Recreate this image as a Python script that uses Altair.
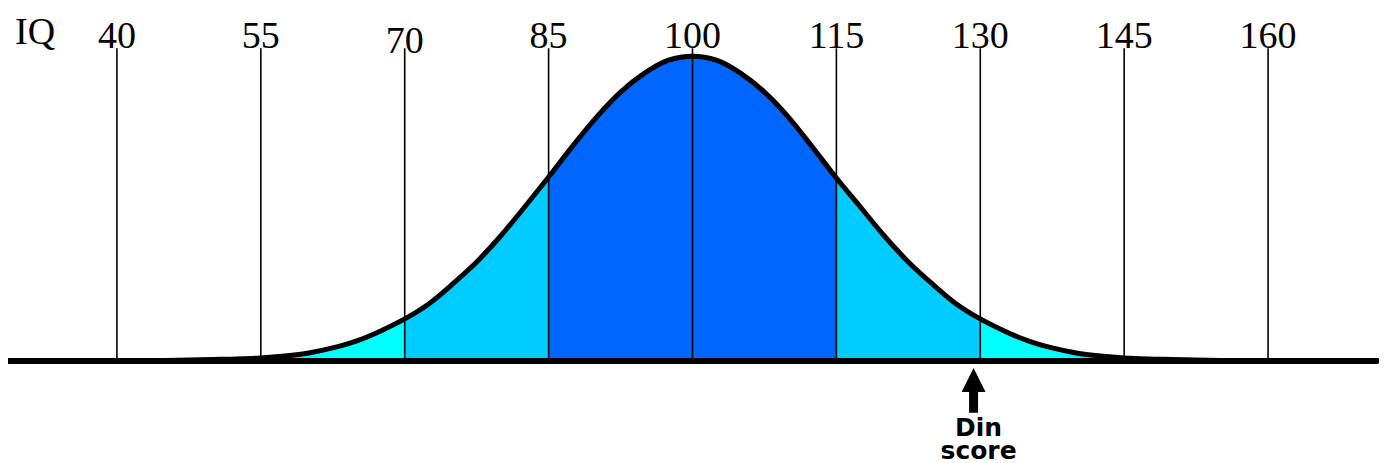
import altair as alt
import pandas as pd

# ---- data ----
IQ_TICKS = [40, 55, 70, 85, 100, 115, 130, 145, 160]
IQ_LABELS = ["40", "55", "70", "85", "100", "115", "130", "145", "160"]

CURVE_IQ = [42.5, 45, 47.5, 50, 52.5, 55, 57.5, 60, 62.5, 65, 67.5, 70, 72.5, 75,
            77.5, 80, 82.5, 85, 87.5, 90, 92.5, 95, 97.5, 100, 102.5, 105, 107.5,
            110, 112.5, 115, 117.5, 120, 122.5, 125, 127.5, 130, 132.5, 135, 137.5,
            140, 142.5, 145, 147.5, 150, 152.5, 155, 157.5]
CURVE_H = [0, 0.5, 1, 1.5, 2, 3, 5, 8, 13, 20, 30, 42, 57, 77,
           99, 125, 154, 184, 215, 244, 269, 288, 301, 305, 301, 288, 269,
           244, 214, 183, 154, 125, 99, 77, 57, 42, 30, 20, 13,
           8, 5, 3, 2, 1.5, 1, 0.5, 0]

BAND_LO = [55, 70, 85, 115, 130]
BAND_HI = [70, 85, 115, 130, 145]
BAND_KIND = ["outer", "mid", "center", "mid", "outer"]
KIND_ORDER = ["outer", "mid", "center"]
KIND_COLORS = ["#00FFFF", "#00CCFF", "#0066FF"]

DIN_SCORE = 129.3

# ---- tables ----
curve = pd.DataFrame({"iq": CURVE_IQ, "h": CURVE_H})
rows = []
for i, (lo, hi, kind) in enumerate(zip(BAND_LO, BAND_HI, BAND_KIND)):
    for q, h in zip(CURVE_IQ, CURVE_H):
        if lo <= q <= hi:
            rows.append({"iq": q, "h": h, "kind": kind, "seg": i})
bands = pd.DataFrame(rows)
ticks = pd.DataFrame({"iq": IQ_TICKS, "label": IQ_LABELS})
din = pd.DataFrame({"iq": [DIN_SCORE]})
base = pd.DataFrame({"v": [0]})

W, H = 1372, 455
xs = alt.Scale(domain=[28.646, 171.563], nice=False, zero=False)
ys = alt.Scale(domain=[-102, 353], nice=False, zero=False)
X = lambda f="iq:Q": alt.X(f, scale=xs, axis=None)

areas = alt.Chart(bands).mark_area(interpolate="monotone", strokeWidth=0, opacity=1).encode(
    x=X(),
    y=alt.Y("h:Q", scale=ys, axis=None, stack=None),
    color=alt.Color("kind:N", scale=alt.Scale(domain=KIND_ORDER, range=KIND_COLORS), legend=None),
    detail="seg:N",
)

vlines = alt.Chart(ticks).mark_rule(color="black", strokeWidth=1.6).encode(
    x=X(), y=alt.value(40), y2=alt.value(353)
)

outline = alt.Chart(curve).mark_line(
    interpolate="monotone", color="black", strokeWidth=5, strokeCap="round"
).encode(x=X(), y=alt.Y("h:Q", scale=ys, axis=None))

baseline = alt.Chart(base).mark_rule(color="black", strokeWidth=6, strokeCap="round").encode(
    y=alt.Y("v:Q", scale=ys, axis=None), x=alt.value(1), x2=alt.value(1370)
)

label_style = dict(font="Liberation Serif", fontSize=38, align="center",
                   baseline="alphabetic", color="black")
labels = alt.Chart(ticks).transform_filter("datum.iq != 70").mark_text(**label_style).encode(
    x=X(), y=alt.value(40), text="label:N"
)
label70 = alt.Chart(ticks).transform_filter("datum.iq == 70").mark_text(**label_style).encode(
    x=X(), y=alt.value(45), text="label:N"
)
iq_title = alt.Chart(base).mark_text(
    font="Liberation Serif", fontSize=38, align="left", baseline="alphabetic", color="black", text="IQ"
).encode(x=alt.value(7), y=alt.value(36))

ARROW = "M0,-1 L0.533,0.067 L0.2,0.067 L0.2,1 L-0.2,1 L-0.2,0.067 L-0.533,0.067 Z"
arrow = alt.Chart(din).mark_point(
    shape=ARROW, size=2025, filled=True, color="black", opacity=1, strokeWidth=0
).encode(x=X(), y=alt.value(382.5))

din_style = dict(font="DejaVu Sans", fontWeight="bold", fontSize=25, align="center",
                 baseline="alphabetic", color="black", dx=5)
din1 = alt.Chart(din).mark_text(text="Din", **din_style).encode(x=X(), y=alt.value(428))
din2 = alt.Chart(din).mark_text(text="score", **din_style).encode(x=X(), y=alt.value(451))

chart = alt.layer(
    areas, vlines, outline, baseline, labels, label70, iq_title, arrow, din1, din2
).properties(
    width=W, height=H, padding=0, autosize=alt.AutoSizeParams(type="none")
).configure_view(strokeWidth=0)

chart.save("out.html", embed_options={"renderer": "svg", "actions": False})
